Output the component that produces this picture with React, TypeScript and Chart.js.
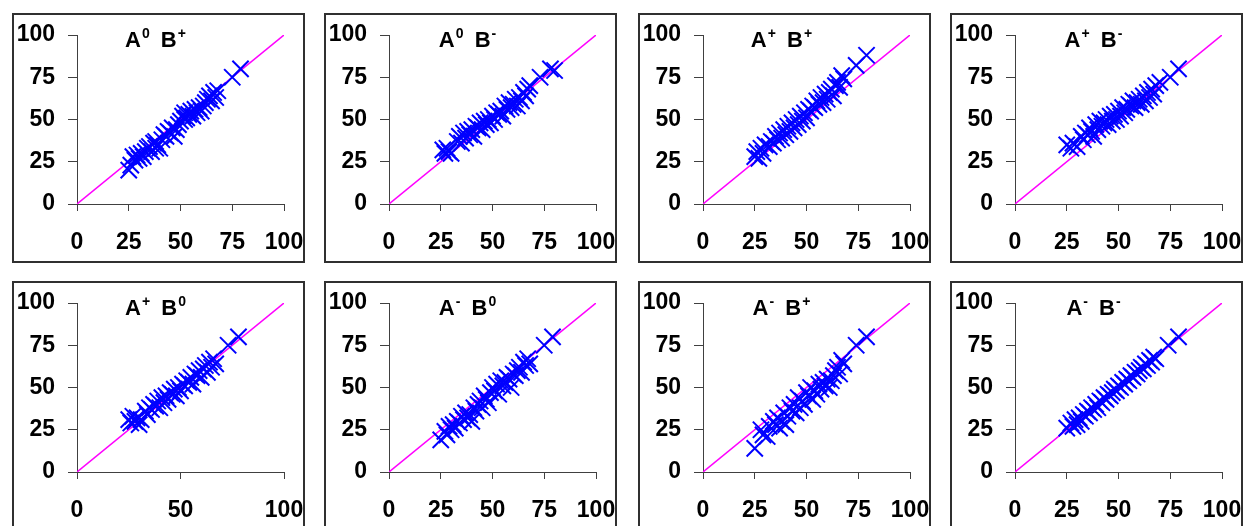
import React, { useEffect, useRef } from "react";
import { Chart, registerables } from "chart.js";

Chart.register(...registerables);

// ---- Data ----
const titlesA = ["0", "0", "+", "+", "+", "-", "-", "-"];
const titlesB = ["+", "-", "+", "-", "0", "0", "+", "-"];
const xTickSteps = [25, 25, 25, 25, 50, 25, 25, 25];
const axisTicks = [0, 25, 50, 75, 100];
const refLineX = [0, 100];
const refLineY = [0, 100];

const panel1X = [25,26,27,28,29,30,31,32,33,34,35,36,37,38,38,39,40,41,42,43,44,45,46,47,48,49,50,51,52,52,53,54,55,56,57,58,59,60,61,62,63,64,65,66,67,68,75,79];
const panel1Y = [20,23,28,26,29,27,30,28,31,33,34,31,36,33,37,35,33,38,41,40,43,42,45,40,44,47,49,52,50,54,51,53,55,52,56,54,57,55,58,60,62,64,61,66,63,67,75,80];

const panel2X = [26,27,28,29,30,33,34,35,36,37,38,39,40,41,42,43,44,45,46,47,48,49,50,51,52,53,54,55,56,57,58,59,60,61,62,63,64,65,66,67,68,73,78,80];
const panel2Y = [32,30,33,31,30,37,40,36,42,39,43,41,44,40,46,45,48,44,49,47,50,48,52,50,54,53,55,52,58,56,60,57,59,62,58,63,61,66,64,68,70,75,80,79];

const panel3X = [25,26,27,28,29,30,32,33,34,35,36,37,38,39,40,41,42,43,44,45,46,47,48,49,50,51,52,53,54,55,56,57,58,59,60,61,62,63,64,65,66,67,68,74,79];
const panel3Y = [28,31,27,33,30,35,34,37,36,40,38,42,39,44,41,46,43,48,45,50,47,52,49,54,51,56,55,58,57,61,59,63,60,65,62,66,68,64,70,72,69,76,74,82,88];

const panel4X = [25,27,28,30,32,33,34,35,36,37,38,39,40,41,42,43,44,45,46,47,48,49,50,51,52,53,54,55,56,57,58,59,60,61,62,63,64,65,66,67,68,70,75,79];
const panel4Y = [35,33,36,34,40,38,42,41,45,43,40,47,44,49,46,48,50,47,52,49,53,50,55,52,57,54,56,59,58,61,57,60,62,59,64,61,66,63,68,65,70,72,75,80];

const panel5X = [25,26,27,28,29,30,31,33,34,35,36,37,38,39,40,41,42,43,44,45,46,47,48,49,50,51,52,53,54,55,56,57,58,59,60,61,62,63,64,65,66,67,73,78];
const panel5Y = [31,29,33,30,32,28,31,36,34,38,37,40,39,42,38,44,41,45,43,47,46,49,45,50,48,52,51,54,53,56,52,58,57,60,56,61,63,59,65,62,67,64,75,80];

const panel6X = [25,27,28,29,30,31,32,33,34,35,36,37,38,39,40,41,42,43,44,45,46,47,48,49,50,51,52,53,54,55,56,57,58,59,60,61,62,63,64,65,66,67,68,75,79];
const panel6Y = [19,24,22,27,25,28,26,30,29,33,31,35,32,34,30,38,36,40,42,38,45,43,41,47,50,48,52,46,54,51,53,56,55,50,58,57,60,62,59,65,63,67,64,75,80];

const panel7X = [25,28,29,31,32,34,35,36,37,38,39,40,41,42,43,44,45,46,47,48,49,50,51,52,53,54,55,56,57,58,59,60,61,62,63,64,65,66,67,68,74,79];
const panel7Y = [14,25,22,21,27,30,28,32,26,30,35,28,33,38,36,40,35,44,38,42,40,47,45,50,43,48,46,52,49,53,51,55,50,54,57,60,62,58,66,64,75,80];

const panel8X = [25,27,28,29,30,31,32,33,34,35,36,37,38,39,40,41,42,43,44,45,46,47,48,49,50,51,52,53,54,55,56,57,58,59,60,61,62,63,64,65,66,67,68,74,79];
const panel8Y = [26,29,27,31,28,32,30,34,33,36,35,38,37,40,38,42,41,44,43,46,45,47,49,48,51,50,53,52,55,54,57,56,59,58,60,62,61,64,63,66,65,68,67,75,80];

const panelXs = [panel1X, panel2X, panel3X, panel4X, panel5X, panel6X, panel7X, panel8X];
const panelYs = [panel1Y, panel2Y, panel3Y, panel4Y, panel5Y, panel6Y, panel7Y, panel8Y];

// ---- Layout ----
const boxLefts = [12, 324, 638, 950];
const boxTops = [13, 281];
const BOX_W = 293;
const BOX_H = 250;
const FONT = "'Liberation Sans', Arial, sans-serif";
const AXIS_COLOR = "#404040";

function Panel({ idx }: { idx: number }) {
  const ref = useRef<HTMLCanvasElement | null>(null);
  useEffect(() => {
    if (!ref.current) return;
    const xs = panelXs[idx];
    const ys = panelYs[idx];
    const pts = xs.map((x, i) => ({ x, y: ys[i] }));
    const line = refLineX.map((x, i) => ({ x, y: refLineY[i] }));
    const xStep = xTickSteps[idx];
    const chart = new Chart(ref.current, {
      type: "scatter",
      data: {
        datasets: [
          {
            data: pts,
            pointStyle: "crossRot",
            pointRadius: 11.5,
            pointBorderWidth: 2,
            borderColor: "#0000FF",
            backgroundColor: "#0000FF",
            showLine: false,
            order: 0,
          } as any,
          {
            data: line,
            showLine: true,
            borderColor: "#FF00FF",
            borderWidth: 1.5,
            pointRadius: 0,
            order: 1,
          } as any,
        ],
      },
      options: {
        animation: false,
        responsive: false,
        events: [],
        layout: { padding: { top: 22, right: 21, left: 0, bottom: 0 } },
        plugins: { legend: { display: false }, tooltip: { enabled: false }, title: { display: false } },
        scales: {
          x: {
            type: "linear",
            min: 0,
            max: 100,
            afterFit: (s: any) => {
              s.height = BOX_H - 191;
              s.paddingLeft = 0;
              s.paddingRight = 0;
              s.paddingTop = 0;
              s.paddingBottom = 0;
            },
            afterBuildTicks: (s: any) => {
              s.ticks = axisTicks.filter((v) => v % xStep === 0).map((v) => ({ value: v }));
            },
            grid: { drawOnChartArea: false, drawTicks: true, tickLength: 7, color: AXIS_COLOR, lineWidth: 1 },
            border: { color: AXIS_COLOR, width: 1 },
            ticks: { color: "#000", font: { family: FONT, size: 23, weight: "bold" }, padding: 18, maxRotation: 0, autoSkip: false },
          },
          y: {
            type: "linear",
            min: 0,
            max: 100,
            afterFit: (s: any) => {
              s.width = 65;
              s.paddingLeft = 0;
              s.paddingRight = 0;
              s.paddingTop = 0;
              s.paddingBottom = 0;
            },
            afterBuildTicks: (s: any) => {
              s.ticks = axisTicks.map((v) => ({ value: v }));
            },
            grid: { drawOnChartArea: false, drawTicks: true, tickLength: 9, color: AXIS_COLOR, lineWidth: 1 },
            border: { color: AXIS_COLOR, width: 1 },
            ticks: { color: "#000", font: { family: FONT, size: 23, weight: "bold" }, padding: 13, autoSkip: false },
          },
        },
      },
    });
    return () => chart.destroy();
  }, [idx]);

  const left = boxLefts[idx % 4];
  const top = boxTops[Math.floor(idx / 4)];
  const supStyle: React.CSSProperties = { fontSize: 14, position: "relative", top: -9, lineHeight: 0, marginLeft: 1 };
  return (
    <div style={{ position: "absolute", left, top, width: BOX_W, height: BOX_H }}>
      <canvas ref={ref} width={BOX_W} height={BOX_H} style={{ position: "absolute", left: 0, top: 0, width: BOX_W, height: BOX_H }} />
      <div
        style={{
          position: "absolute",
          left: 0,
          top: 16,
          width: BOX_W - 6,
          textAlign: "center",
          fontFamily: FONT,
          fontWeight: "bold",
          fontSize: 22,
          lineHeight: "22px",
          color: "#000",
          whiteSpace: "pre",
        }}
      >
        A<span style={{ ...supStyle, marginRight: 5 }}>{titlesA[idx]}</span>{" "}B<span style={supStyle}>{titlesB[idx]}</span>
      </div>
      <div
        style={{
          position: "absolute",
          left: 0,
          top: 0,
          width: BOX_W,
          height: BOX_H,
          boxSizing: "border-box",
          border: "2px solid #303030",
          pointerEvents: "none",
        }}
      />
    </div>
  );
}

export default function App() {
  return (
    <div style={{ position: "fixed", left: 0, top: 0, width: 1244, height: 526, overflow: "hidden", background: "#fff" }}>
      {[0, 1, 2, 3, 4, 5, 6, 7].map((i) => (
        <Panel key={i} idx={i} />
      ))}
    </div>
  );
}
